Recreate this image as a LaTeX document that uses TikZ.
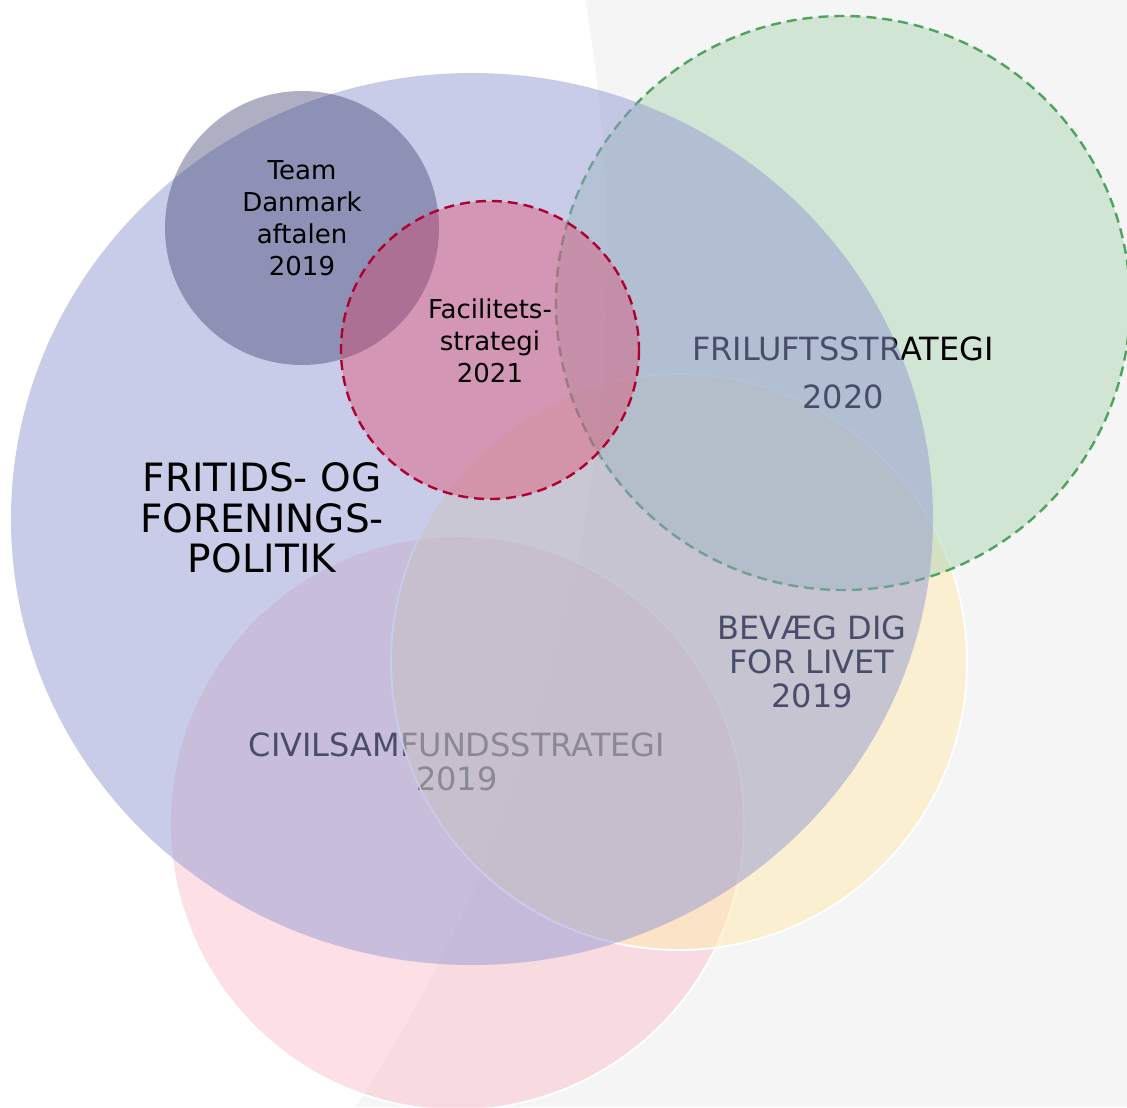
\documentclass[tikz,border=0pt]{standalone}
\usepackage{fontspec}
\setmainfont{DejaVu Sans}

\definecolor{bggray}{RGB}{245,245,245}
\definecolor{politikblue}{RGB}{149,155,211}
\definecolor{frilufgreen}{RGB}{175,215,183}
\definecolor{frilufline}{RGB}{78,164,92}
\definecolor{bevaegyellow}{RGB}{255,235,175}
\definecolor{civilpink}{RGB}{250,195,205}
\definecolor{teamslate}{RGB}{55,57,108}
\definecolor{facilrose}{RGB}{232,52,88}
\definecolor{facilline}{RGB}{176,0,46}

\begin{document}
\begin{tikzpicture}[x=0.5pt,y=-0.5pt]
  \tikzset{blob/.style = {fill opacity=0.5}}
  \tikzset{rim/.style = {draw=white, line width=0.9pt}}
  \tikzset{dashrim/.style = {line width=1.2pt, dash pattern=on 5pt off 3pt}}
  \tikzset{label/.style = {align=center, inner sep=0pt, text=black}}

  \useasboundingbox (0,0) rectangle (1127,1107);
  \clip (0,0) rectangle (1127,1107);

  \fill[bggray] (0,0) rectangle (1127,1107);
  \fill[white] (-943,260) circle[radius=1550];

  %%%%%%%%%%%%

  \fill[blob, civilpink] (457,823) circle[radius=287];
  \draw[rim] (457,823) circle[radius=287];
  \node[label, font=\fontsize{16}{17}\selectfont] (civil) at (457,762)
  {CIVILSAMFUNDSSTRATEGI\\2019};

  %%%%%%%%%%%%

  \fill[blob, bevaegyellow] (679,662) circle[radius=288];
  \draw[rim] (679,662) circle[radius=288];
  \node[label, font=\fontsize{16}{17}\selectfont] (bevaeg) at (812,662)
  {BEVÆG DIG\\FOR LIVET\\2019};

  %%%%%%%%%%%%

  \fill[blob, frilufgreen] (843,303) circle[radius=287];
  \draw[dashrim, frilufline] (843,303) circle[radius=287];
  \node[label, font=\fontsize{16}{24}\selectfont] (friluft) at (843,373)
  {FRILUFTSSTRATEGI\\2020};

  %%%%%%%%%%%%

  \fill[blob, politikblue] (472,519) ellipse[x radius=461, y radius=446];
  \node[label, font=\fontsize{19.5}{20.25}\selectfont] (fritid) at (262,518)
  {FRITIDS- OG\\FORENINGS-\\POLITIK};

  %%%%%%%%%%%%

  \fill[teamslate, fill opacity=0.4] (302,228) circle[radius=137];
  \node[label, font=\fontsize{13}{16}\selectfont] (team) at (302,218)
  {Team\\Danmark\\aftalen\\2019};

  %%%%%%%%%%%%

  \fill[facilrose, fill opacity=0.35] (490,350) circle[radius=149];
  \draw[dashrim, facilline] (490,350) circle[radius=149];
  \node[label, font=\fontsize{13}{16}\selectfont] (facilitet) at (490,341)
  {Facilitets-\\strategi\\2021};

\end{tikzpicture}
\end{document}
